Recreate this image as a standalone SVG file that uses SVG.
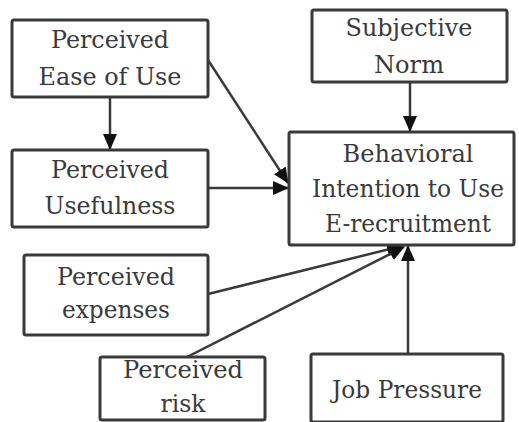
<svg xmlns="http://www.w3.org/2000/svg" width="519" height="422" viewBox="0 0 519 422">
<defs>
<style>
.box{fill:#fff;stroke:#3a3a3a;stroke-width:3}
.c{stroke:#3a3a3a;stroke-width:2.5;fill:none;marker-end:url(#ah)}
</style>
<marker id="ah" markerUnits="userSpaceOnUse" markerWidth="16" markerHeight="14" refX="15" refY="7" orient="auto">
<path d="M0,0 L16,7 L0,14 Z" fill="#111"/>
</marker>
</defs>
<rect width="519" height="422" fill="#fff"/>
<g id="connectors">
<line class="c" x1="110" y1="97" x2="110" y2="149"/>
<line class="c" x1="410" y1="82" x2="410" y2="131"/>
<line class="c" x1="208" y1="60" x2="288" y2="183"/>
<line class="c" x1="208" y1="188" x2="288" y2="188"/>
<line class="c" x1="208" y1="294" x2="402" y2="246"/>
<line class="c" x1="187" y1="357" x2="404" y2="247"/>
<line class="c" x1="408" y1="354" x2="408" y2="246"/>
</g>
<g font-family="DejaVu Serif, serif" font-size="24" fill="#3a3a3a" text-anchor="middle">
<g id="peou">
<rect class="box" x="12" y="20" width="196" height="77" rx="2"/>
<text x="110" y="48" textLength="118" lengthAdjust="spacingAndGlyphs">Perceived</text>
<text x="110" y="85" textLength="143" lengthAdjust="spacingAndGlyphs">Ease of Use</text>
</g>
<g id="pu">
<rect class="box" x="12" y="150" width="196" height="77" rx="2"/>
<text x="110" y="178" textLength="118" lengthAdjust="spacingAndGlyphs">Perceived</text>
<text x="110" y="214" textLength="131" lengthAdjust="spacingAndGlyphs">Usefulness</text>
</g>
<g id="sn">
<rect class="box" x="312" y="10" width="195" height="72" rx="2"/>
<text x="409" y="36" textLength="127" lengthAdjust="spacingAndGlyphs">Subjective</text>
<text x="409" y="73" textLength="70" lengthAdjust="spacingAndGlyphs">Norm</text>
</g>
<g id="bi">
<rect class="box" x="289" y="132" width="225" height="113" rx="2"/>
<text x="408" y="162" textLength="131" lengthAdjust="spacingAndGlyphs">Behavioral</text>
<text x="408" y="197" textLength="192" lengthAdjust="spacingAndGlyphs">Intention to Use</text>
<text x="408" y="232" textLength="166" lengthAdjust="spacingAndGlyphs">E-recruitment</text>
</g>
<g id="pe">
<rect class="box" x="24" y="255" width="184" height="80" rx="2"/>
<text x="116" y="285" textLength="118" lengthAdjust="spacingAndGlyphs">Perceived</text>
<text x="116" y="318" textLength="108" lengthAdjust="spacingAndGlyphs">expenses</text>
</g>
<g id="pr">
<rect class="box" x="100" y="357" width="165" height="63" rx="2"/>
<text x="183" y="378" textLength="120" lengthAdjust="spacingAndGlyphs">Perceived</text>
<text x="183" y="412" textLength="45" lengthAdjust="spacingAndGlyphs">risk</text>
</g>
<g id="jp">
<rect class="box" x="311" y="354" width="192" height="68" rx="2"/>
<text x="407" y="398" textLength="150" lengthAdjust="spacingAndGlyphs">Job Pressure</text>
</g>
</g>
</svg>
